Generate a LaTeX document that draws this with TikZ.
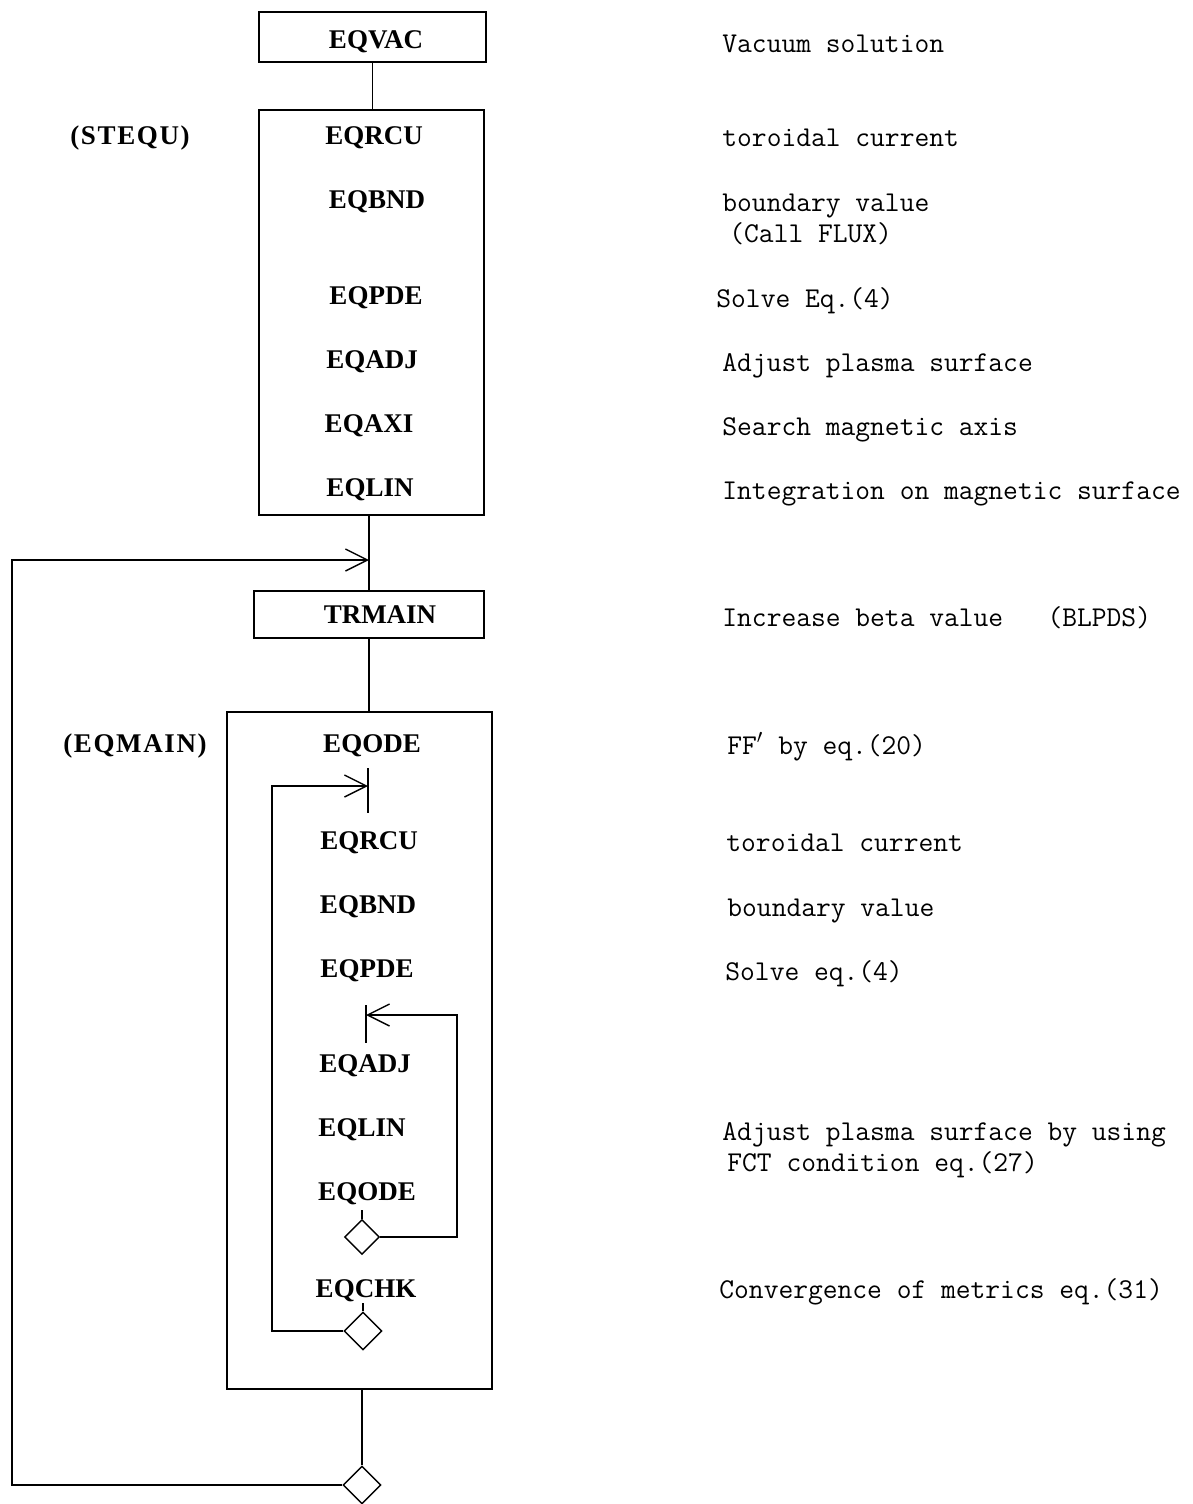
\documentclass[tikz,border=0pt]{standalone}
\usepackage{fontspec}
\newfontfamily\boxfont{Liberation Serif}
\newfontfamily\sideboxfont[LetterSpace=6]{Liberation Serif}
\usetikzlibrary{arrows.meta,shapes.geometric}
\begin{document}
\begin{tikzpicture}[x=0.5pt,y=-0.5pt,
  ln/.style={line width=0.7pt},
  arr/.style={ln,-{Straight Barb[length=11pt,width=11pt,line width=0.7pt]}},
  frame/.style={draw,ln,inner sep=0},
  lbl/.style={font=\fontsize{13.5}{15}\boxfont\bfseries,anchor=base,inner sep=0},
  sidelbl/.style={font=\fontsize{13.5}{15}\sideboxfont\bfseries,anchor=base,inner sep=0},
  desc/.style={font=\fontsize{14.35}{16}\selectfont\ttfamily,anchor=base west,inner sep=0},
  dia/.style={draw,ln,shape=diamond,inner sep=0,minimum width=#1,minimum height=#1}
]
\useasboundingbox (0,0) rectangle (1193,1504);

% boxes
\node[frame,minimum width=113.5pt,minimum height=25pt] (vac) at (372.5,37) {};
\node[lbl] (vact) at (376,49) {EQVAC};
\node[frame,minimum width=112.5pt,minimum height=202.5pt] (stequ) at (371.5,312.5) {};
\node[frame,minimum width=115pt,minimum height=23.5pt] (trmain) at (369,614.5) {};
\node[lbl] (trmaint) at (380,623) {TRMAIN};
\node[frame,minimum width=132.5pt,minimum height=338.5pt] (eqmain) at (359.5,1050.5) {};

% left labels
\node[sidelbl] (lstequ) at (130,144) {(STEQU)};
\node[sidelbl] (leqmain) at (135,752) {(EQMAIN)};

% STEQU contents
\node[lbl] (s1) at (374,144) {EQRCU};
\node[lbl] (s2) at (377,208) {EQBND};
\node[lbl] (s3) at (376,304) {EQPDE};
\node[lbl] (s4) at (372,368) {EQADJ};
\node[lbl] (s5) at (369,432) {EQAXI};
\node[lbl] (s6) at (370,496) {EQLIN};

% EQMAIN contents
\node[lbl] (m1) at (372,752) {EQODE};
\node[lbl] (m2) at (369,849) {EQRCU};
\node[lbl] (m3) at (368,913) {EQBND};
\node[lbl] (m4) at (367,977) {EQPDE};
\node[lbl] (m5) at (365,1072) {EQADJ};
\node[lbl] (m6) at (362,1136) {EQLIN};
\node[lbl] (m7) at (367,1200) {EQODE};
\node[lbl] (m8) at (366,1297) {EQCHK};

% diamonds
\node[dia=17.5pt] (d1) at (362,1237) {};
\node[dia=19pt] (d2) at (363,1331) {};
\node[dia=19pt] (d3) at (362,1485) {};

% right descriptions
\node[desc] (t1) at (722,53) {Vacuum solution};
\node[desc] (t2) at (722,147) {toroidal current};
\node[desc] (t3) at (722,211) {boundary value};
\node[desc] (t3b) at (729,242) {(Call FLUX)};
\node[desc] (t4) at (716,307) {Solve Eq.(4)};
\node[desc] (t5) at (722,371) {Adjust plasma surface};
\node[desc] (t6) at (722,435) {Search magnetic axis};
\node[desc] (t7) at (722,499) {Integration on magnetic surface};
\node[desc] (t8) at (722,626) {Increase beta value\ \ \ (BLPDS)};
\node[desc] (t9) at (727,754) {FF$'$ by eq.(20)};
\node[desc] (t10) at (726,851) {toroidal current};
\node[desc] (t11) at (727,916) {boundary value};
\node[desc] (t12) at (725,980) {Solve eq.(4)};
\node[desc] (t13) at (722,1140) {Adjust plasma surface by using};
\node[desc] (t13b) at (727,1171) {FCT condition eq.(27)};
\node[desc] (t14) at (719,1298) {Convergence of metrics eq.(31)};

% coordinates for connectors
\coordinate (tl) at (12,560);
\coordinate (j1) at (369,560);
\coordinate (k1a) at (368,768);
\coordinate (k1b) at (368,813);
\coordinate (a1) at (368,786);
\coordinate (l1) at (272,786);
\coordinate (k2a) at (366,1005);
\coordinate (k2b) at (366,1043);
\coordinate (a2) at (366,1015);
\coordinate (r2) at (457,1015);
\coordinate (o7) at (362,1210);
\coordinate (o8) at (363,1303);

% connectors
\draw[ln] (vac.south) -- (vac.south |- stequ.north);
\draw[ln] (stequ.south -| trmain) -- (trmain.north);
\draw[ln] (trmain.south) -- (trmain.south |- eqmain.north);
\draw[ln] (eqmain.south -| d3) -- (d3.north);
\draw[arr] (d3.west) -| (tl) -- (j1);
\draw[ln] (k1a) -- (k1b);
\draw[arr] (d2.west) -| (l1) -- (a1);
\draw[ln] (k2a) -- (k2b);
\draw[arr] (d1.east) -| (r2) -- (a2);
\draw[ln] (o7) -- (d1.north);
\draw[ln] (o8) -- (d2.north);
\end{tikzpicture}
\end{document}
